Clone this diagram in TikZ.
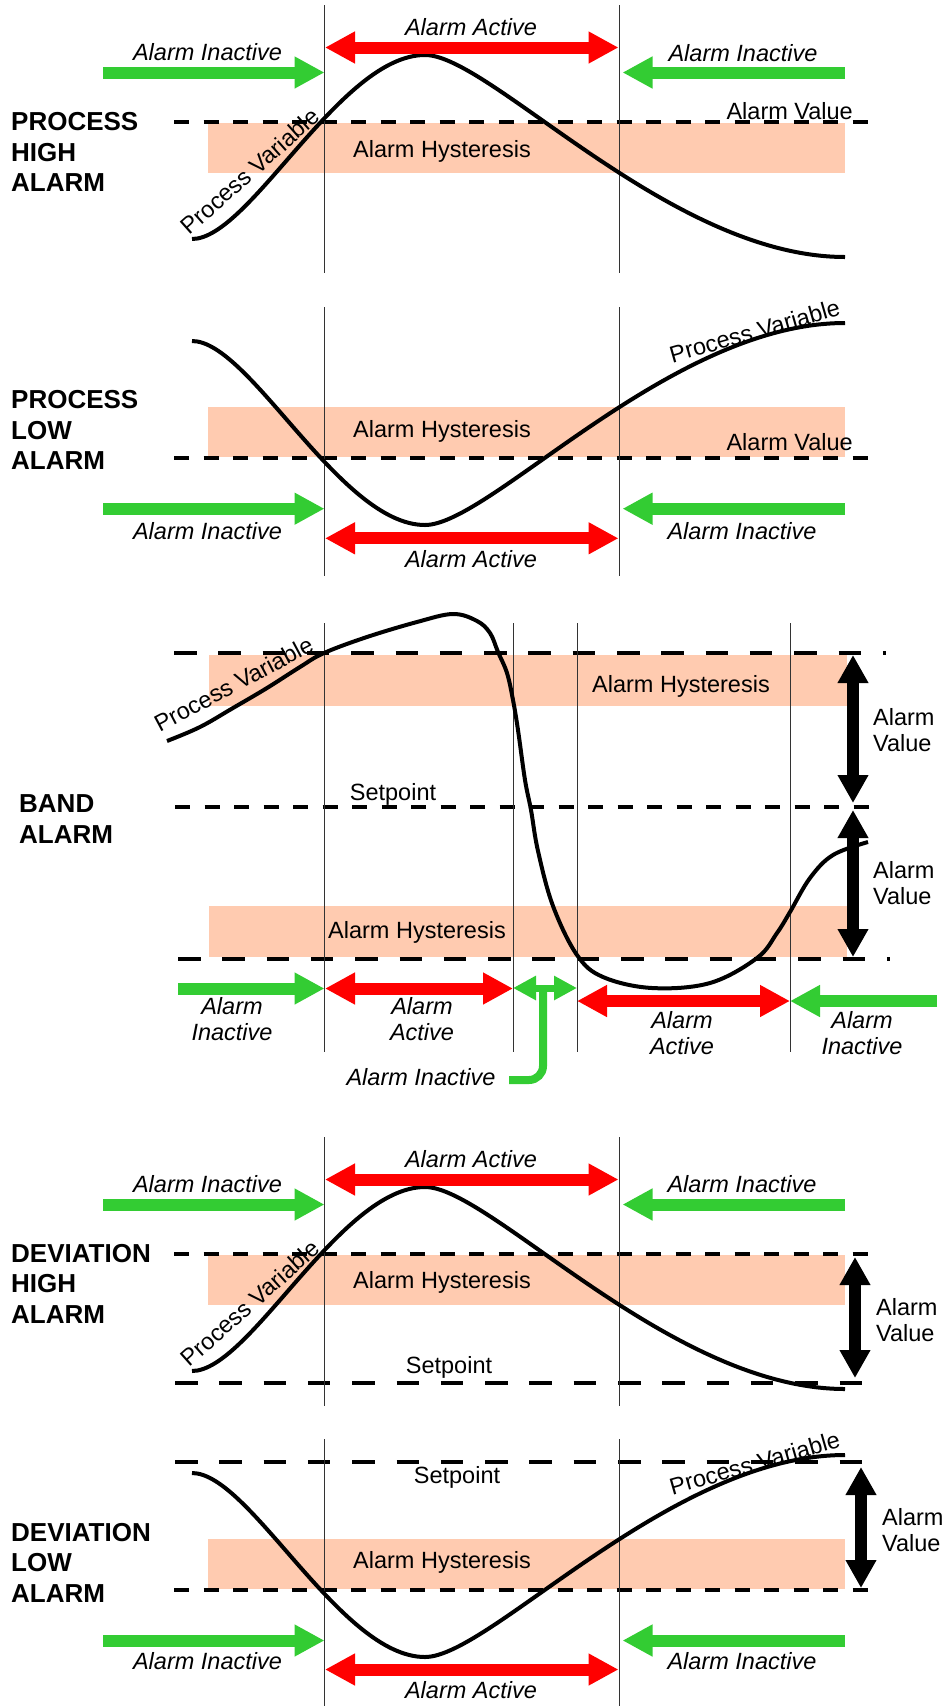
\documentclass[tikz,border=0pt]{standalone}
\usepackage{fontspec}
\setmainfont{Liberation Sans}
\usetikzlibrary{arrows.meta}
\definecolor{agreen}{RGB}{51,204,51}
\definecolor{ared}{RGB}{255,0,0}
\definecolor{bandc}{RGB}{255,203,176}
\begin{document}
\begin{tikzpicture}[x=1pt,y=-1pt,
 vline/.style={line width=1pt, black!80},
 thindash/.style={line width=3.3pt, dash pattern=on 15pt off 14.5pt},
 thickdash/.style={line width=4.7pt, dash pattern=on 22.5pt off 21.8pt},
 pv/.style={line width=4pt, line join=round},
 hyst/.style={fill=bandc, draw=none},
 goarrow/.style={agreen, line width=12pt, -{Triangle[length=30pt,width=30pt]}},
 actarrow/.style={ared, line width=12pt, {Triangle[length=30pt,width=30pt]}-{Triangle[length=30pt,width=30pt]}},
 valarrow/.style={black, line width=12pt, {Triangle[length=28pt,width=29pt]}-{Triangle[length=28pt,width=29pt]}},
 smallarrow/.style={agreen, line width=7pt, {Triangle[length=23pt,width=23pt]}-{Triangle[length=23pt,width=23pt]}},
 txt/.style={font=\fontsize{23.5}{26.5}\selectfont, inner sep=0pt, anchor=base, align=center},
 itxt/.style={txt, font=\fontsize{23.5}{26.5}\selectfont\itshape},
 head/.style={font=\fontsize{26}{30.5}\selectfont\bfseries, inner sep=0pt, anchor=base west, align=left},
]
\useasboundingbox (0,0) rectangle (948,1706);

% ================= Panel 1: PROCESS HIGH ALARM
\fill[hyst] (208,123) rectangle (845,173);
\draw[thindash] (174,122) -- (868,122);
\draw[vline] (324.5,5) -- (324.5,273);
\draw[vline] (619,5) -- (619,273);
\draw[pv] (192,239) .. controls (250,239) and (340,55) .. (425,55) .. controls (490,55) and (670,257) .. (845,257);
\draw[goarrow] (103,72.5) -- (324.5,72.5);
\draw[goarrow] (845,72.5) -- (622.5,72.5);
\draw[actarrow] (325,47.5) -- (618.5,47.5);
\node[head] (h1) at (11,191.5) {PROCESS\\HIGH\\ALARM};
\node[itxt] (a1) at (471,35) {Alarm Active};
\node[itxt] (i1l) at (207.5,60) {Alarm Inactive};
\node[itxt] (i1r) at (743,61) {Alarm Inactive};
\node[txt] (hy1) at (442,157) {Alarm Hysteresis};
\node[txt, anchor=base east] (v1) at (853,119) {Alarm Value};
\node[txt, rotate=41.6] (p1) at (255.5,177.5) {Process Variable};

% ================= Panel 2: PROCESS LOW ALARM
\fill[hyst] (208,407) rectangle (845,457);
\draw[thindash] (174,458) -- (868,458);
\draw[vline] (324.5,307) -- (324.5,576);
\draw[vline] (619,307) -- (619,576);
\draw[pv] (192,341) .. controls (250,341) and (340,525) .. (425,525) .. controls (490,525) and (670,323) .. (845,323);
\draw[goarrow] (103,508.7) -- (324.5,508.7);
\draw[goarrow] (845,508.7) -- (622.5,508.7);
\draw[actarrow] (325,538.3) -- (618.5,538.3);
\node[head] (h2) at (11,469.5) {PROCESS\\LOW\\ALARM};
\node[itxt] (a2) at (471,567) {Alarm Active};
\node[itxt] (i2l) at (207.5,539) {Alarm Inactive};
\node[itxt] (i2r) at (742,539) {Alarm Inactive};
\node[txt] (hy2) at (442,437) {Alarm Hysteresis};
\node[txt, anchor=base east] (v2) at (853,450) {Alarm Value};
\node[txt, rotate=16] (p2) at (757,339) {Process Variable};

% ================= Panel 3: BAND ALARM
\fill[hyst] (209,655) rectangle (847,706);
\fill[hyst] (209,906) rectangle (847,957);
\draw[thickdash] (174,653) -- (886,653);
\draw[thindash] (175,807) -- (872,807);
\draw[thickdash] (178,959) -- (890,959);
\foreach \xx in {324.5,513,577,790} \draw[vline] (\xx,623) -- (\xx,1052);
\draw[pv] plot[smooth, tension=0.6] coordinates {(167,741) (200,727) (233,708) (267,688) (300,667) (324,653) (367,637) (417,622) (453,614) (477,621) (490,633) (498,652) (507,673) (513,700) (518,730) (525,780) (531,810) (538,851) (553,906) (577,955) (603,977) (652,988) (710,983) (757,958) (777,933) (790,912) (810,878) (833,855) (868,842)};
\draw[goarrow] (178,988.5) -- (324.5,988.5);
\draw[actarrow] (325,988.5) -- (513,988.5);
\draw[smallarrow] (513,988) -- (577,988);
\coordinate (jtop) at (543,988);
\coordinate (jend) at (509,1080);
\draw[agreen, line width=8pt, rounded corners=14pt] (jtop) |- (jend);
\draw[actarrow] (577,1001) -- (790,1001);
\draw[goarrow] (937,1001) -- (790,1001);
\draw[valarrow] (853,655) -- (853,803);
\draw[valarrow] (853,810) -- (853,957);
\node[head] (h3) at (19,843) {BAND\\ALARM};
\node[txt] (sp3) at (393,800) {Setpoint};
\node[txt] (hy3u) at (681,692) {Alarm Hysteresis};
\node[txt] (hy3l) at (417,938) {Alarm Hysteresis};
\node[txt, anchor=base west, align=left] (v3u) at (873,751.5) {Alarm\\Value};
\node[txt, anchor=base west, align=left] (v3l) at (873,904.5) {Alarm\\Value};
\node[itxt] (i3a) at (232,1040.5) {Alarm\\Inactive};
\node[itxt] (a3a) at (422,1040.5) {Alarm\\Active};
\node[itxt] (a3b) at (682,1054.5) {Alarm\\Active};
\node[itxt] (i3b) at (862,1054.5) {Alarm\\Inactive};
\node[itxt] (i3c) at (421,1085) {Alarm Inactive};
\node[txt, rotate=28] (p3) at (237.5,691.5) {Process Variable};

% ================= Panel 4: DEVIATION HIGH ALARM
\fill[hyst] (208,1255) rectangle (845,1305);
\draw[thindash] (174,1254) -- (868,1254);
\draw[thickdash] (175,1383) -- (864,1383);
\draw[vline] (324.5,1137) -- (324.5,1406);
\draw[vline] (619,1137) -- (619,1406);
\draw[pv] (192,1371) .. controls (250,1371) and (340,1187) .. (425,1187) .. controls (490,1187) and (670,1389) .. (845,1389);
\draw[goarrow] (103,1204.5) -- (324.5,1204.5);
\draw[goarrow] (845,1204.5) -- (622.5,1204.5);
\draw[actarrow] (325,1179.5) -- (618.5,1179.5);
\draw[valarrow] (855,1257) -- (855,1378);
\node[head] (h4) at (11,1323) {DEVIATION\\HIGH\\ALARM};
\node[itxt] (a4) at (471,1167) {Alarm Active};
\node[itxt] (i4l) at (207.5,1192) {Alarm Inactive};
\node[itxt] (i4r) at (742,1192) {Alarm Inactive};
\node[txt] (hy4) at (442,1288) {Alarm Hysteresis};
\node[txt] (sp4) at (449,1373) {Setpoint};
\node[txt, anchor=base west, align=left] (v4) at (876,1341.5) {Alarm\\Value};
\node[txt, rotate=41.6] (p4) at (255.5,1309.5) {Process Variable};

% ================= Panel 5: DEVIATION LOW ALARM
\fill[hyst] (208,1539) rectangle (845,1589);
\draw[thickdash] (175,1462) -- (864,1462);
\draw[thindash] (174,1590) -- (868,1590);
\draw[vline] (324.5,1439) -- (324.5,1706);
\draw[vline] (619,1439) -- (619,1706);
\draw[pv] (192,1473) .. controls (250,1473) and (340,1657) .. (425,1657) .. controls (490,1657) and (670,1455) .. (845,1455);
\draw[goarrow] (103,1640.5) -- (324.5,1640.5);
\draw[goarrow] (845,1640.5) -- (622.5,1640.5);
\draw[actarrow] (325,1669.5) -- (618.5,1669.5);
\draw[valarrow] (861,1467) -- (861,1588);
\node[head] (h5) at (11,1602) {DEVIATION\\LOW\\ALARM};
\node[itxt] (a5) at (471,1698) {Alarm Active};
\node[itxt] (i5l) at (207.5,1669) {Alarm Inactive};
\node[itxt] (i5r) at (742,1669) {Alarm Inactive};
\node[txt] (hy5) at (442,1568) {Alarm Hysteresis};
\node[txt] (sp5) at (457,1483) {Setpoint};
\node[txt, anchor=base west, align=left] (v5) at (882,1551.5) {Alarm\\Value};
\node[txt, rotate=16] (p5) at (757,1471) {Process Variable};
\end{tikzpicture}
\end{document}
